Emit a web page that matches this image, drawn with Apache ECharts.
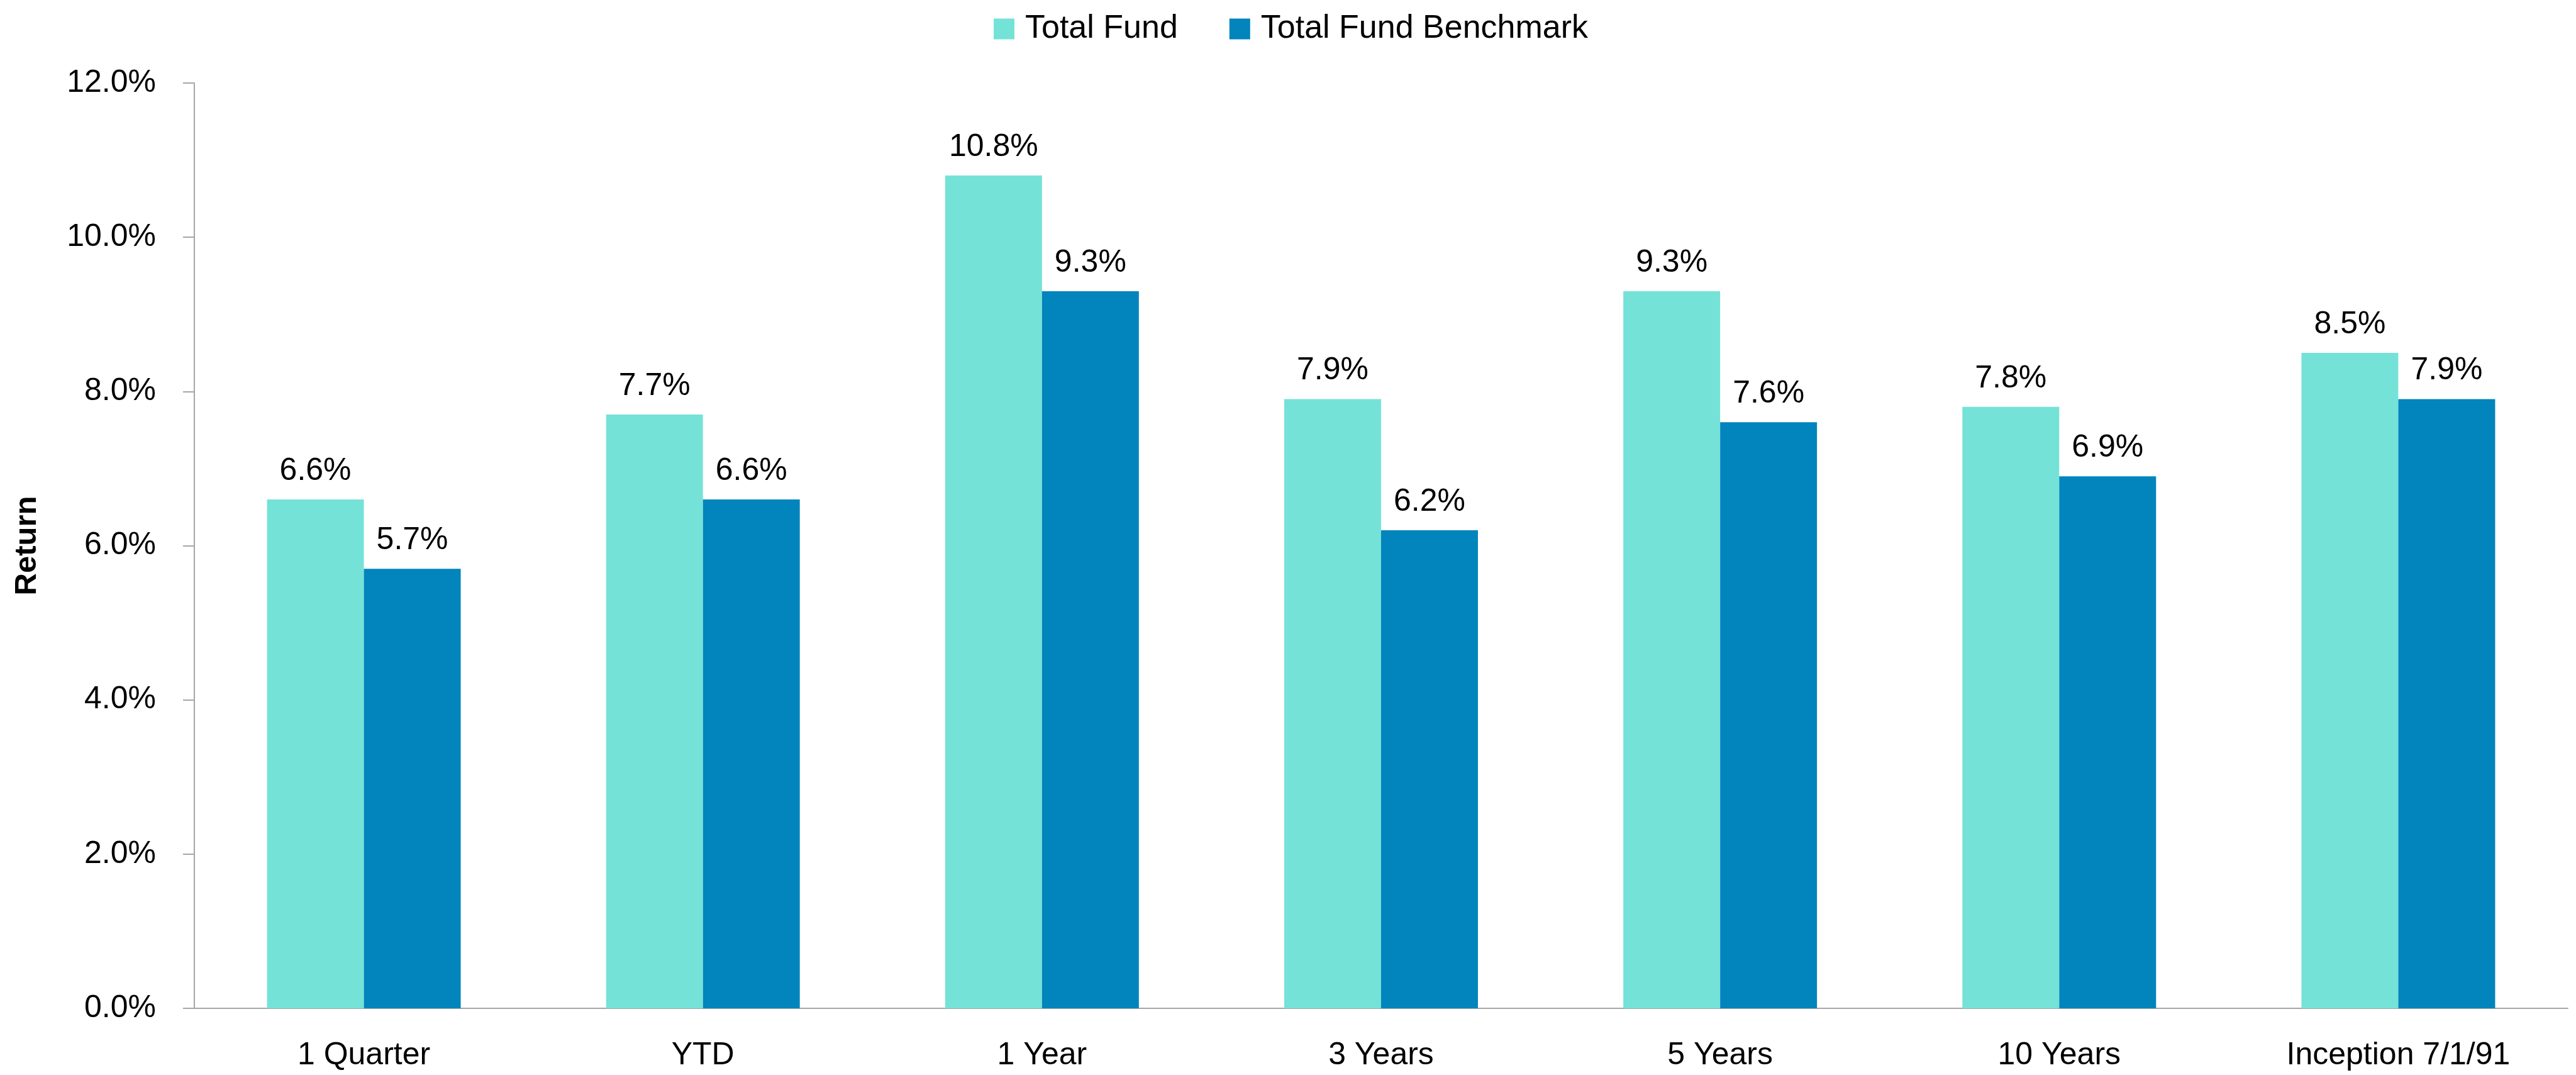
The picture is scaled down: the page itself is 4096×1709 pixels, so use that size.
<!DOCTYPE html>
<html>
<head>
<meta charset="utf-8">
<script src="https://cdn.jsdelivr.net/npm/echarts@6/dist/echarts.min.js"></script>
<style>
  html, body { margin: 0; padding: 0; background: #fff; }
  #chart { width: 4096px; height: 1709px; }
</style>
</head>
<body>
<div id="chart"></div>
<script>
let categories = ['1 Quarter', 'YTD', '1 Year', '3 Years', '5 Years', '10 Years', 'Inception 7/1/91'];
let totalFund = [6.6, 7.7, 10.8, 7.9, 9.3, 7.8, 8.5];
let benchmark = [5.7, 6.6, 9.3, 6.2, 7.6, 6.9, 7.9];
let seriesNames = ['Total Fund', 'Total Fund Benchmark'];

let fontName = '"Liberation Sans", Arial, sans-serif';
let axisGray = '#a6a6a6';

let pct = (v) => v.toFixed(1) + '%';

let barLabel = {
  show: true,
  position: 'top',
  distance: 20,
  color: '#000',
  fontFamily: fontName,
  fontSize: 50,
  formatter: (p) => pct(p.value)
};

let chart = echarts.init(document.getElementById('chart'));
let option = {
  backgroundColor: '#fff',
  animation: false,
  legend: {
    left: 1575,
    top: 15,
    itemWidth: 33,
    itemHeight: 33,
    itemGap: 82,
    icon: 'rect',
    textStyle: {
      color: '#000',
      fontFamily: fontName,
      fontSize: 52,
      padding: [0, 0, 0, 12]
    },
    data: seriesNames
  },
  grid: {
    left: 309,
    right: 13,
    top: 132,
    bottom: 106
  },
  xAxis: {
    type: 'category',
    data: categories,
    axisLine: { show: true, lineStyle: { color: axisGray, width: 2 } },
    axisTick: { show: false },
    axisLabel: {
      color: '#000',
      fontFamily: fontName,
      fontSize: 50,
      margin: 50,
      interval: 0
    }
  },
  yAxis: {
    type: 'value',
    min: 0,
    max: 12,
    interval: 2,
    name: 'Return',
    nameLocation: 'middle',
    nameRotate: 90,
    nameGap: 241,
    nameTextStyle: {
      color: '#000',
      fontFamily: fontName,
      fontSize: 49,
      fontWeight: 'bold'
    },
    axisLine: { show: true, lineStyle: { color: axisGray, width: 2 } },
    axisTick: { show: true, inside: false, length: 18, lineStyle: { color: axisGray, width: 2 } },
    splitLine: { show: false },
    axisLabel: {
      color: '#000',
      fontFamily: fontName,
      fontSize: 50,
      margin: 61,
      formatter: (v) => pct(v)
    }
  },
  series: [
    {
      name: seriesNames[0],
      type: 'bar',
      data: totalFund,
      barWidth: 154,
      barGap: '0%',
      itemStyle: { color: '#75e2d8' },
      label: barLabel
    },
    {
      name: seriesNames[1],
      type: 'bar',
      data: benchmark,
      barWidth: 154,
      barGap: '0%',
      itemStyle: { color: '#0284bc' },
      label: barLabel
    }
  ]
};
chart.setOption(option);
</script>
</body>
</html>
